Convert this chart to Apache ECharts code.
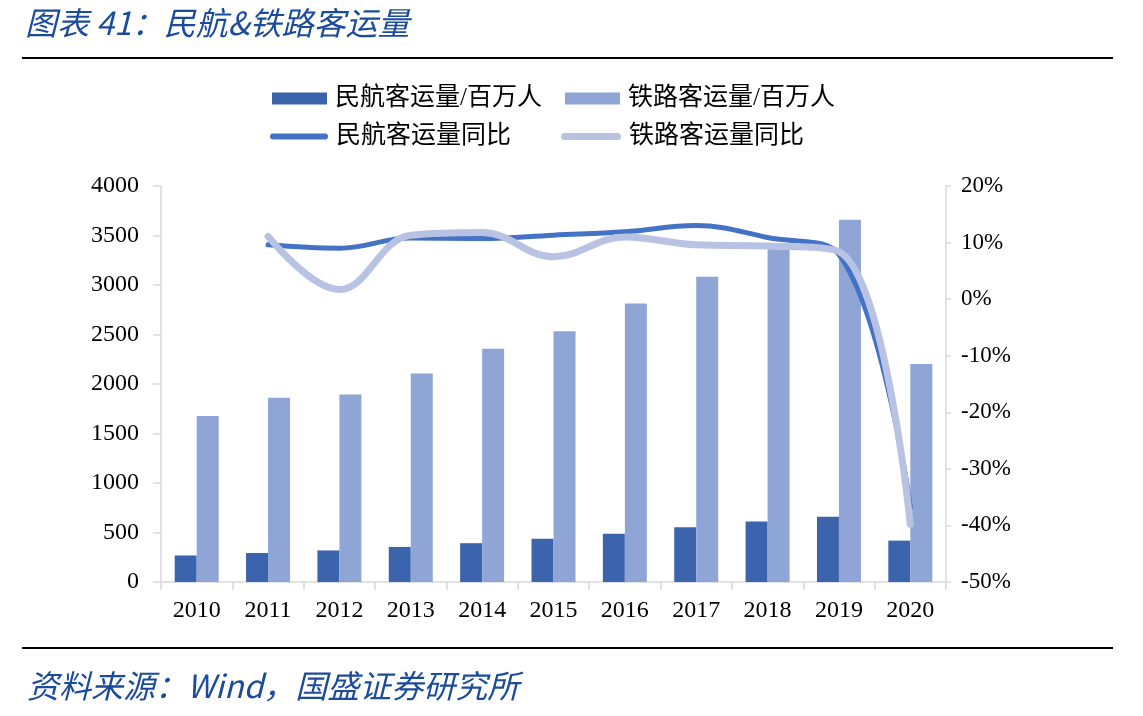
<!DOCTYPE html>
<html>
<head>
<meta charset="utf-8">
<script src="https://cdn.jsdelivr.net/npm/echarts@6/dist/echarts.min.js"></script>
<style>
html,body{margin:0;padding:0;background:#fff;}
#c{width:1143px;height:716px;}
</style>
</head>
<body>
<div id="c"></div>
<script>
var years = ['2010','2011','2012','2013','2014','2015','2016','2017','2018','2019','2020'];
var airPassengers = [268, 293, 319, 354, 392, 436, 488, 552, 612, 660, 418];
var railPassengers = [1676, 1862, 1893, 2106, 2357, 2533, 2814, 3084, 3375, 3660, 2203];
var airYoY = [null, 9.6, 9.0, 10.8, 10.7, 11.3, 11.9, 13.0, 10.9, 7.9, -36.7];
var railYoY = [null, 11.1, 1.7, 11.3, 11.8, 7.5, 11.0, 9.6, 9.4, 8.4, -39.8];
var leftTicks = [0, 4000, 500];
var rightTicks = [-50, 20, 10];

var serif = "'Liberation Serif','Times New Roman','Noto Sans CJK SC',serif";
var cjk = "'Liberation Serif','Noto Sans CJK SC',serif";
var blueTitle = '#1B4B9B';
var names = ['民航客运量/百万人','铁路客运量/百万人','民航客运量同比','铁路客运量同比'];

function legendAt(name, left, top, icon, w, h){
  return {
    data:[name], left:left, top:top, itemWidth:w, itemHeight:h, icon:icon,
    itemGap:0, padding:0,
    textStyle:{fontFamily:cjk, fontSize:25, color:'#000', padding:[0,0,0,3]}
  };
}

var chart = echarts.init(document.getElementById('c'));
chart.setOption({
  animation:false,
  backgroundColor:'#fff',
  title:[{
    text:'图表 41：民航&铁路客运量', left:20, top:2,
    textStyle:{fontFamily:"'Noto Sans CJK SC',sans-serif", fontStyle:'italic', fontWeight:'normal', fontSize:32, color:blueTitle}
  },{
    text:'资料来源：Wind，国盛证券研究所', left:22, top:665,
    textStyle:{fontFamily:"'Noto Sans CJK SC',sans-serif", fontStyle:'italic', fontWeight:'normal', fontSize:32, color:blueTitle}
  }],
  graphic:[
    {type:'line', shape:{x1:22,y1:58,x2:1113,y2:58}, style:{stroke:'#000', lineWidth:2}},
    {type:'line', shape:{x1:22,y1:648,x2:1113,y2:648}, style:{stroke:'#000', lineWidth:2}}
  ],
  legend:[
    legendAt(names[0], 272, 86, 'rect', 55, 12),
    legendAt(names[1], 565, 86, 'rect', 55, 12),
    legendAt(names[2], 270, 124, 'path://M3,0 L57,0 A3,3 0 0 1 57,6 L3,6 A3,3 0 0 1 3,0 Z', 58, 6),
    legendAt(names[3], 561, 124, 'path://M3.5,0 L56.5,0 A3.5,3.5 0 0 1 56.5,7 L3.5,7 A3.5,3.5 0 0 1 3.5,0 Z', 60, 7)
  ],
  grid:{left:161, right:197, top:186, bottom:134, containLabel:false},
  xAxis:{
    type:'category', data:years, boundaryGap:true,
    axisLine:{lineStyle:{color:'#D9D9D9', width:1.5}},
    axisTick:{show:true, alignWithLabel:false, length:8, lineStyle:{color:'#D9D9D9', width:1.5}},
    axisLabel:{fontFamily:serif, fontSize:24, color:'#000', margin:17}
  },
  yAxis:[{
    type:'value', min:leftTicks[0], max:leftTicks[1], interval:leftTicks[2],
    axisLine:{show:true, lineStyle:{color:'#D9D9D9', width:1.5}},
    axisTick:{show:true, length:8, lineStyle:{color:'#D9D9D9', width:1.5}},
    splitLine:{show:false},
    axisLabel:{fontFamily:serif, fontSize:24, color:'#000', margin:22, formatter:function(v){return String(v);}}
  },{
    type:'value', min:rightTicks[0], max:rightTicks[1], interval:rightTicks[2], position:'right',
    axisLine:{show:true, lineStyle:{color:'#D9D9D9', width:1.5}},
    axisTick:{show:true, length:5, lineStyle:{color:'#D9D9D9', width:1.5}},
    splitLine:{show:false},
    axisLabel:{fontFamily:serif, fontSize:23, color:'#000', margin:15, formatter:function(v){return v+'%';}}
  }],
  series:[
    {name:names[0], type:'bar', data:airPassengers, barWidth:22, barGap:'0%', itemStyle:{color:'#3C64AC'}, z:2},
    {name:names[1], type:'bar', data:railPassengers, barWidth:22, barGap:'0%', itemStyle:{color:'#8FA5D5'}, z:2},
    {name:names[2], type:'line', yAxisIndex:1, data:airYoY, smooth:0.4, symbol:'none', connectNulls:false,
      lineStyle:{color:'#4472C4', width:5, cap:'round'}, itemStyle:{color:'#4472C4'}, z:3},
    {name:names[3], type:'line', yAxisIndex:1, data:railYoY, smooth:0.4, symbol:'none',
      lineStyle:{color:'#B8C3E3', width:7, cap:'round'}, itemStyle:{color:'#B8C3E3'}, z:4}
  ]
});
</script>
</body>
</html>
